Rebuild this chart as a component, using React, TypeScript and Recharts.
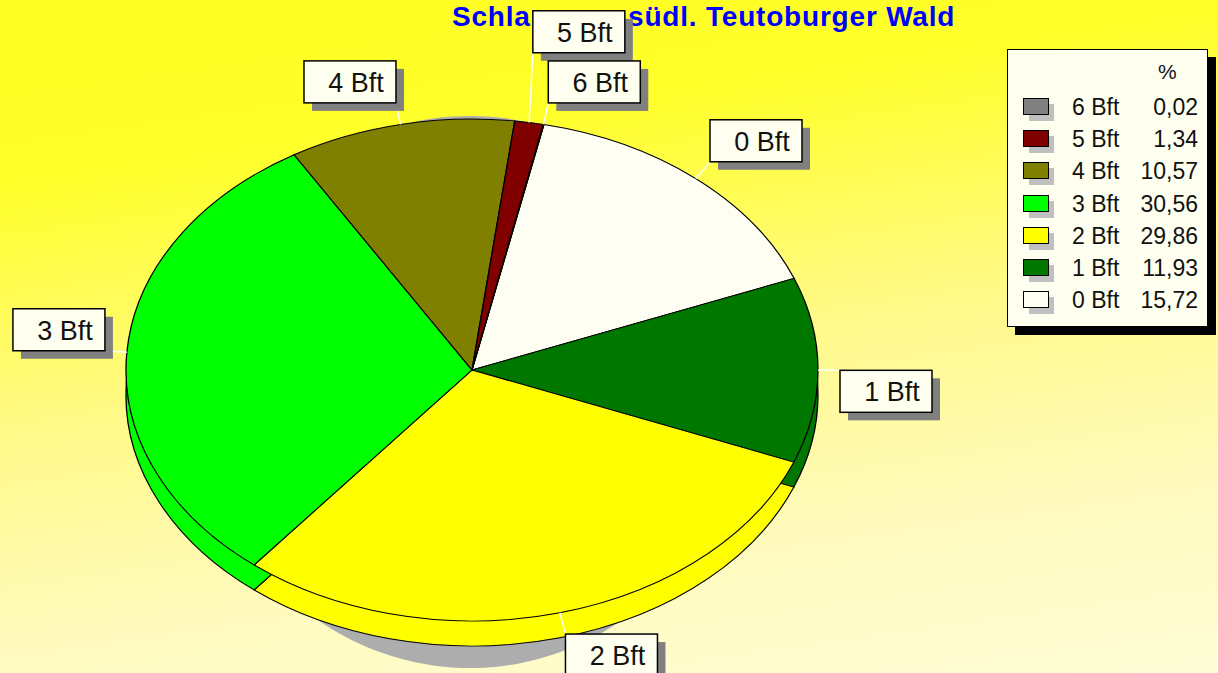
import React from 'react';
import { PieChart, Pie, Cell } from 'recharts';

// Wind force classes, clockwise from the top of the pie
const WIND = ['0 Bft', '1 Bft', '2 Bft', '3 Bft', '4 Bft', '5 Bft', '6 Bft'];
const PERCENT = [15.72, 11.93, 29.86, 30.56, 10.57, 1.34, 0.02];
const COLORS = ['#FFFEF2', '#007800', '#FFFF00', '#00FF00', '#808000', '#800000', '#808080'];

const TITLE = 'Schlangen - südl. Teutoburger Wald';

const data = WIND.map((name, i) => ({ name, value: PERCENT[i] }));
const shadowData = [{ name: 'shadow', value: 100 }];

// the pie is drawn as a circle and squashed into an ellipse
const K = 251 / 346;
const W = 1218;
const H = 673;
const RX = 346;
const CX = 472;
const CY = 370 / K;
const DEPTH = 25 / K;
const RAD = Math.PI / 180;

// the shadow has its own squash
const SRX = 270;
const K2 = 276 / 270;

const NO_MARGIN = { top: 0, right: 0, bottom: 0, left: 0 };

// labels pushed further out so they don't sit on top of each other
const LABEL_LIFT: Record<string, number> = { '5 Bft': 48 };

const renderLabel = (props: any) => {
  const { cx, cy, midAngle, outerRadius, index } = props;
  const name = WIND[index];
  const cos = Math.cos(-midAngle * RAD);
  const sin = Math.sin(-midAngle * RAD);
  const ax = cx + outerRadius * cos;
  const ay = cy + outerRadius * sin;
  const ex = cos * 22;
  const ey = sin * 22 - (LABEL_LIFT[name] ?? 0);
  const bw = 92;
  const bh = 42;
  const bx = cos >= 0 ? ex : ex - bw;
  const by = sin < 0 ? ey - bh : ey;
  return (
    <g key={`lbl-${name}`} transform={`translate(${ax},${ay}) scale(1,${1 / K})`}>
      <line x1={0} y1={0} x2={ex} y2={ey} stroke="#ffffff" strokeWidth={1.5} />
      <rect x={bx + 8} y={by + 8} width={bw} height={bh} fill="#808080" />
      <rect x={bx} y={by} width={bw} height={bh} fill="#FFFFF0" stroke="#000" strokeWidth={1.5} />
      <text x={bx + 52} y={by + 31} textAnchor="middle" fontSize={27} fontFamily="'Liberation Sans', Arial, sans-serif" fill="#111">
        {name}
      </text>
    </g>
  );
};

const fmt = (v: number) => v.toFixed(2).replace('.', ',');

export default function App() {
  return (
    <div
      style={{
        position: 'absolute',
        left: 0,
        top: 0,
        width: W,
        height: H,
        overflow: 'hidden',
        background: 'linear-gradient(172deg, #ffff22 0%, #ffff2a 22%, #fff98a 52%, #fffbc0 78%, #fffdd6 100%)',
        fontFamily: "'Liberation Sans', Arial, sans-serif",
      }}
    >
      {/* title sits under the chart, the 5 Bft label covers part of it */}
      <div
        style={{
          position: 'absolute',
          left: 452,
          top: 3,
          fontSize: 28,
          lineHeight: '28px',
          fontWeight: 'bold',
          letterSpacing: 0.8,
          color: '#0000FF',
          whiteSpace: 'nowrap',
        }}
      >
        {TITLE}
      </div>

      {/* cast shadow */}
      <div style={{ position: 'absolute', left: 0, top: 0, transform: `scaleY(${K2})`, transformOrigin: '0 0' }}>
        <PieChart width={W} height={H / K2} margin={NO_MARGIN}>
          <Pie
            data={shadowData}
            dataKey="value"
            cx={470}
            cy={392 / K2}
            outerRadius={SRX}
            stroke="none"
            fill="#ADADAD"
            isAnimationActive={false}
          />
        </PieChart>
      </div>

      <div style={{ position: 'absolute', left: 0, top: 0, transform: `scaleY(${K})`, transformOrigin: '0 0' }}>
        <PieChart width={W} height={H / K} margin={NO_MARGIN}>
          {/* bottom disc = side wall */}
          <Pie
            data={data}
            dataKey="value"
            nameKey="name"
            cx={CX}
            cy={CY + DEPTH}
            outerRadius={RX}
            startAngle={78}
            endAngle={-282}
            stroke="#000"
            strokeWidth={1.3}
            isAnimationActive={false}
          >
            {data.map((d, i) => (
              <Cell key={`side-${d.name}`} fill={COLORS[i]} />
            ))}
          </Pie>
          {/* top surface */}
          <Pie
            data={data}
            dataKey="value"
            nameKey="name"
            cx={CX}
            cy={CY}
            outerRadius={RX}
            startAngle={78}
            endAngle={-282}
            stroke="#000"
            strokeWidth={1.3}
            label={renderLabel}
            labelLine={false}
            isAnimationActive={false}
          >
            {data.map((d, i) => (
              <Cell key={`top-${d.name}`} fill={COLORS[i]} />
            ))}
          </Pie>
        </PieChart>
      </div>

      {/* legend box, listed from 6 Bft down to 0 Bft */}
      <div
        style={{
          position: 'absolute',
          left: 1007,
          top: 49,
          width: 199,
          height: 276,
          background: '#FFFFF0',
          border: '1.5px solid #000',
          boxShadow: '8px 8px 0 #000',
          color: '#111',
        }}
      >
        <div style={{ position: 'absolute', left: 150, top: 10, fontSize: 21 }}>%</div>
        {WIND.map((name, i) => ({ name, i }))
          .reverse()
          .map(({ name, i }, row) => (
            <div key={name} style={{ position: 'absolute', left: 0, top: 47 + row * 32.2, width: 199, height: 28 }}>
              <div style={{ position: 'absolute', left: 21, top: 7, width: 25, height: 17, background: '#C0C0C0' }} />
              <div
                style={{
                  position: 'absolute',
                  left: 15,
                  top: 1,
                  width: 24,
                  height: 15,
                  background: COLORS[i],
                  border: '1.5px solid #000',
                }}
              />
              <div style={{ position: 'absolute', left: 64, top: -4, fontSize: 23, lineHeight: '28px' }}>{name}</div>
              <div style={{ position: 'absolute', right: 9, top: -4, fontSize: 23, lineHeight: '28px' }}>
                {fmt(PERCENT[i])}
              </div>
            </div>
          ))}
      </div>
    </div>
  );
}
